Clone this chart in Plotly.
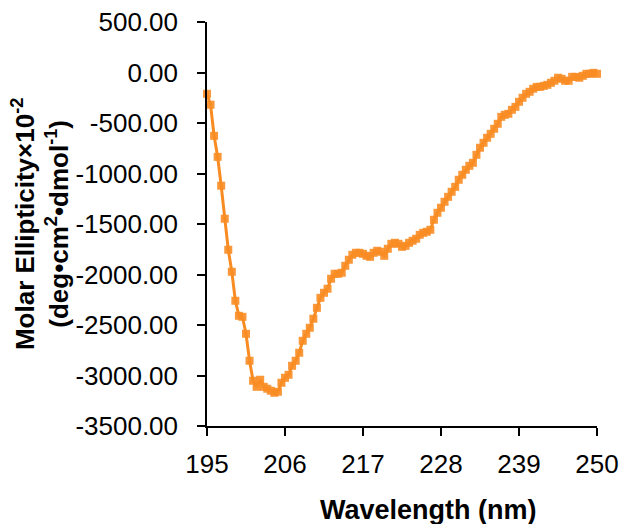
import plotly.graph_objects as go

wavelength = [195 + 0.5 * i for i in range(111)]
ellipticity = [
    -211, -319, -627, -835, -1121, -1448, -1755, -1973, -2260, -2409,
    -2419, -2587, -2854, -3052, -3112, -3042, -3112, -3131, -3151, -3171,
    -3161, -3072, -3023, -2993, -2904, -2854, -2775, -2656, -2587, -2527,
    -2438, -2330, -2231, -2181, -2141, -2042, -1993, -1993, -1983, -1914,
    -1854, -1805, -1785, -1785, -1795, -1815, -1825, -1785, -1765, -1775,
    -1815, -1745, -1696, -1686, -1696, -1726, -1716, -1686, -1666, -1646,
    -1607, -1587, -1577, -1557, -1458, -1389, -1339, -1280, -1231, -1181,
    -1132, -1062, -1013, -963, -924, -894, -815, -745, -696, -646,
    -607, -557, -508, -439, -419, -409, -369, -340, -290, -250,
    -211, -191, -161, -142, -142, -132, -122, -102, -82, -52,
    -62, -82, -82, -43, -43, -52, -33, -13, -13, -3,
    -13,
]
x_ticks = [195, 206, 217, 228, 239, 250]
y_ticks = [500, 0, -500, -1000, -1500, -2000, -2500, -3000, -3500]

orange = "rgb(248,140,35)"

fig = go.Figure()
fig.add_trace(go.Scatter(
    x=wavelength, y=ellipticity, mode="lines+markers",
    line=dict(color=orange, width=3),
    marker=dict(symbol="square", size=8, color=orange, opacity=0.9),
    showlegend=False, cliponaxis=False,
))

font_family = "Liberation Sans, Arial, sans-serif"
fig.update_layout(
    width=621, height=524,
    margin=dict(l=207, r=24, t=22, b=98),
    plot_bgcolor="white", paper_bgcolor="white",
    font=dict(family=font_family, size=26, color="black"),
    xaxis=dict(
        range=[195, 250], tickvals=x_ticks, ticktext=[str(v) for v in x_ticks],
        showgrid=False, zeroline=False, showline=True, linecolor="black", linewidth=1.5,
        ticks="outside", ticklen=8, tickwidth=1.5, tickcolor="black",
        tickfont=dict(size=26), ticklabelstandoff=6, automargin=False,
    ),
    yaxis=dict(
        range=[-3500, 500], tickvals=y_ticks, ticktext=[f"{v:.2f}" for v in y_ticks],
        showgrid=False, zeroline=False, showline=True, linecolor="black", linewidth=1.5,
        ticks="outside", ticklen=8, tickwidth=1.5, tickcolor="black",
        tickfont=dict(size=26), ticklabelstandoff=14, automargin=False,
    ),
    annotations=[
        dict(text="<b>Molar Ellipticity×10<sup>-2</sup><br>(deg•cm<sup>2</sup>•dmol<sup>-1</sup>)</b>",
             xref="paper", yref="paper", x=-0.428, y=0.5, textangle=-90,
             xanchor="center", yanchor="middle", showarrow=False,
             font=dict(size=26, family=font_family)),
        dict(text="<b>Wavelength (nm)</b>", xref="paper", yref="paper",
             x=0.567, y=-0.208, xanchor="center", yanchor="middle", showarrow=False,
             font=dict(size=27, family=font_family)),
    ],
)

fig.write_html("out.html")
